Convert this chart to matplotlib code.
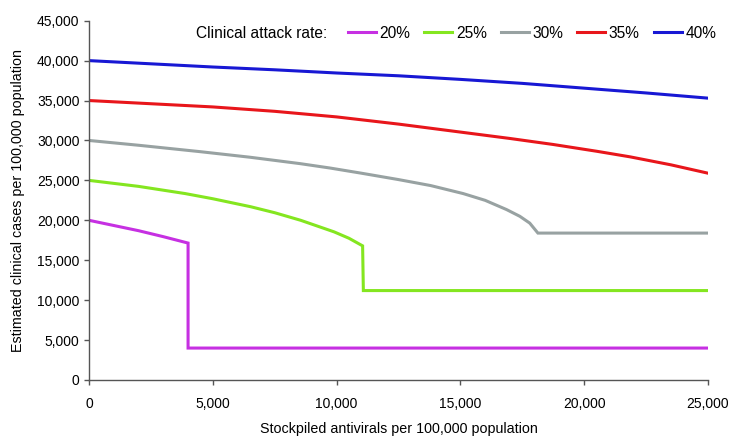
import matplotlib
matplotlib.use("Agg")
import matplotlib.pyplot as plt
from matplotlib.ticker import FuncFormatter, MultipleLocator

plt.rcParams['font.family'] = ['Liberation Sans', 'DejaVu Sans']

labels = ["20%", "25%", "30%", "35%", "40%"]
colors = ["#C630E2", "#84E620", "#98A2A2", "#E8161B", "#1818D4"]

x20 = [0, 1000, 2000, 3000, 4000, 4000, 25000]
y20 = [20000, 19350, 18700, 17950, 17150, 4000, 4000]

x25 = [0, 2000, 3880, 5000, 6530, 7500, 8550, 9900, 10500, 11050, 11080, 25000]
y25 = [25000, 24250, 23350, 22700, 21700, 20950, 20000, 18550, 17750, 16800, 11200, 11200]

x30 = [0, 2000, 4480, 6500, 8520, 9730, 11000, 12500, 13800, 15110, 16000, 16860, 17400, 17800, 18130, 25000]
y30 = [30000, 29400, 28600, 27900, 27100, 26550, 25900, 25100, 24350, 23350, 22500, 21350, 20500, 19650, 18400, 18400]

x35 = [0, 2500, 5000, 7500, 10000, 12500, 15000, 17000, 18740, 20500, 21850, 23500, 25000]
y35 = [35000, 34600, 34200, 33650, 32950, 32050, 31050, 30250, 29500, 28650, 27950, 26950, 25900]

x40 = [0, 2500, 5000, 7500, 10000, 12500, 15000, 17500, 20000, 22500, 25000]
y40 = [40000, 39600, 39200, 38850, 38450, 38100, 37650, 37150, 36550, 35950, 35300]

series_x = [x20, x25, x30, x35, x40]
series_y = [y20, y25, y30, y35, y40]

fig = plt.figure(figsize=(7.5, 4.47), dpi=100)
ax = fig.add_axes([0.1187, 0.1499, 0.8253, 0.8038])

handles = []
for xs, ys, c, lab in zip(series_x, series_y, colors, labels):
    h, = ax.plot(xs, ys, color=c, lw=2.2, label=lab, solid_joinstyle='miter')
    handles.append(h)

ax.set_xlim(0, 25000)
ax.set_ylim(0, 45000)
ax.xaxis.set_major_locator(MultipleLocator(5000))
ax.yaxis.set_major_locator(MultipleLocator(5000))
fmt = FuncFormatter(lambda v, p: f"{int(v):,}")
ax.xaxis.set_major_formatter(fmt)
ax.yaxis.set_major_formatter(fmt)
for s in ['top', 'right']:
    ax.spines[s].set_visible(False)
for s in ['left', 'bottom']:
    ax.spines[s].set_color('#555555')
    ax.spines[s].set_linewidth(1.0)
ax.tick_params(axis='both', direction='out', length=3.8, width=1.0, color='#555555',
               labelsize=10, labelcolor='black')
ax.tick_params(axis='x', pad=8.5)
ax.tick_params(axis='y', pad=3)

ax.set_xlabel("Stockpiled antivirals per 100,000 population", fontsize=10.25, labelpad=8)
ax.set_ylabel("Estimated clinical cases per 100,000 population", fontsize=10.25, labelpad=8.5)

fig.text(0.261, 0.926, "Clinical attack rate:", fontsize=11.2, va='center', ha='left')
leg = fig.legend(handles=handles, labels=labels, loc='center left',
                 bbox_to_anchor=(0.464, 0.926), ncol=5, frameon=False,
                 fontsize=11.2, handlelength=1.78, handletextpad=0.25,
                 columnspacing=0.9, borderaxespad=0, borderpad=0)

fig.savefig("out.png", dpi=100)
